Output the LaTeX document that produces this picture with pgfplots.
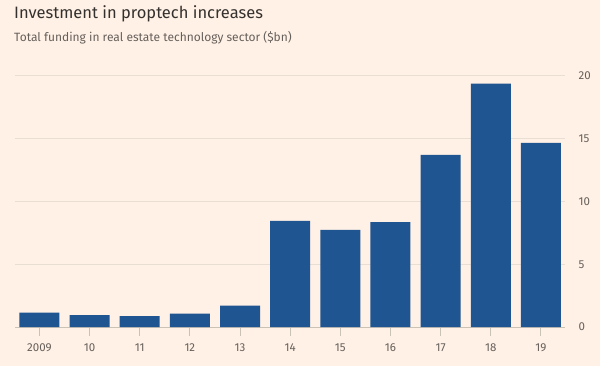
\documentclass[border=0pt]{standalone}
\usepackage{pgfplots}
\pgfplotsset{compat=1.18}
\usepackage{fontspec}
\setmainfont{Fira Sans}
\definecolor{ftbg}{HTML}{FFF1E5}
\definecolor{ftbar}{HTML}{1F5590}
\definecolor{ftgrid}{HTML}{E8DED3}
\definecolor{ftbase}{HTML}{CBC2B6}
\definecolor{fttitle}{HTML}{33302E}
\definecolor{ftsub}{HTML}{66605C}
\definecolor{fttick}{HTML}{66605C}
\begin{document}
\begin{tikzpicture}[x=1bp,y=1bp]
\fill[ftbg] (0,0) rectangle (600,366);
\node[anchor=base west, inner sep=0pt, text=fttitle, font=\fontsize{16.5bp}{19bp}\selectfont] at (14,366-18.3) {Investment in proptech increases};
\node[anchor=base west, inner sep=0pt, text=ftsub, font=\fontsize{12bp}{14bp}\selectfont] at (14,366-41.7) {Total funding in real estate technology sector (\$bn)};
\begin{axis}[
  at={(15.3bp,39bp)}, anchor=south west,
  width=549.2bp, height=251.1bp, scale only axis,
  xmin=-0.48, xmax=10.47, ymin=0, ymax=20,
  clip=false,
  axis x line=bottom,
  axis y line=right,
  x axis line style={ftbase, line width=0.9bp, -},
  y axis line style={draw=none},
  ymajorgrids, grid style={color=ftgrid, line width=0.9bp},
  ytick={0,5,10,15,20},
  yticklabel style={anchor=west, inner sep=0pt, xshift=5bp, text=fttick, font=\fontsize{11.5bp}{13bp}\selectfont},
  xtick=data,
  xticklabels={2009,10,11,12,13,14,15,16,17,18,19},
  tick align=outside,
  major tick length=9bp,
  every tick/.style={ftbase, line width=0.9bp},
  y tick style={draw=none},
  xticklabel style={anchor=center, inner sep=0pt, yshift=-12bp, text=fttick, font=\fontsize{11.5bp}{13bp}\selectfont},
  /pgf/number format/assume math mode=true,
  bar width=40bp,
]
\addplot[ybar, fill=ftbar, draw=none] coordinates {
(0,1.14) (1,0.95) (2,0.87) (3,1.06) (4,1.70) (5,8.46) (6,7.74) (7,8.35) (8,13.70) (9,19.39) (10,14.66)
};
\end{axis}
\end{tikzpicture}
\end{document}
